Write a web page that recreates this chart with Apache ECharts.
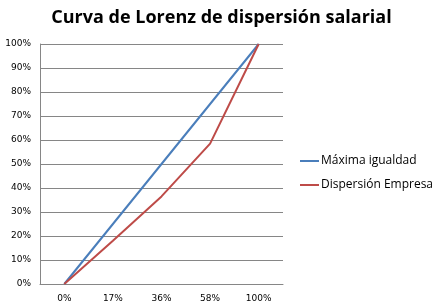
<!DOCTYPE html>
<html><head><meta charset="utf-8">
<script src="https://cdn.jsdelivr.net/npm/echarts@6/dist/echarts.min.js"></script>
<style>html,body{margin:0;padding:0;background:#fff}#c{width:443px;height:308px}</style>
</head><body><div id="c"></div>
<script>
const categories = ['0%', '17%', '36%', '58%', '100%'];
const igualdad = [0, 25, 50, 75, 100];
const empresa = [0, 18, 36.5, 58.5, 100];
const seriesNames = ['Máxima igualdad', 'Dispersión Empresa'];
const chart = echarts.init(document.getElementById('c'));
chart.setOption({
  animation: false,
  backgroundColor: '#fff',
  title: {
    text: 'Curva de Lorenz de dispersión salarial',
    left: 'center', top: 4,
    textStyle: {fontFamily: 'Open Sans', fontWeight: 'bold', fontSize: 18, color: '#000'}
  },
  legend: {
    orient: 'vertical', left: 295, top: 150, itemGap: 12,
    itemWidth: 19, itemHeight: 2, icon: 'rect',
    textStyle: {fontFamily: 'Open Sans', fontSize: 12, color: '#000', padding: [0,0,0,-3]},
    data: seriesNames
  },
  grid: {left: 40, top: 44, width: 243, height: 240},
  xAxis: {
    type: 'category', data: categories, boundaryGap: true,
    axisLine: {lineStyle: {color: '#868686'}},
    axisTick: {show: false},
    axisLabel: {fontFamily: 'DejaVu Sans', fontSize: 9, color: '#000', margin: 10}
  },
  yAxis: {
    type: 'value', min: 0, max: 100, interval: 10,
    axisLine: {show: true, lineStyle: {color: '#868686'}},
    axisTick: {show: false},
    splitLine: {lineStyle: {color: '#868686'}},
    axisLabel: {fontFamily: 'DejaVu Sans', fontSize: 9, color: '#000', formatter: '{value}%', margin: 9}
  },
  series: [
    {name: seriesNames[0], type: 'line', data: igualdad, symbol: 'none', lineStyle: {color: '#4A7EBB', width: 2}, itemStyle: {color: '#4A7EBB'}},
    {name: seriesNames[1], type: 'line', data: empresa, symbol: 'none', lineStyle: {color: '#BE4B48', width: 2}, itemStyle: {color: '#BE4B48'}}
  ]
});
</script></body></html>
